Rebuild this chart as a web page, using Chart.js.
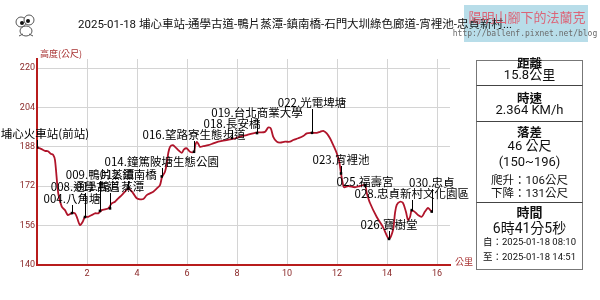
<!DOCTYPE html>
<html>
<head>
<meta charset="utf-8">
<script src="https://cdn.jsdelivr.net/npm/chart.js@4"></script>
<style>
html,body{margin:0;padding:0;background:#fff;}
canvas{display:block;}
</style>
</head>
<body>
<canvas id="c" width="600" height="300"></canvas>
<script>
// ---- data ----
const distKm = [0,0.16,0.32,0.44,0.55,0.65,0.72,0.85,0.99,1.12,1.23,1.32,1.40,1.52,1.61,1.72,1.83,1.92,2.05,2.19,2.32,2.45,2.59,2.72,2.85,2.99,3.12,3.25,3.39,3.52,3.65,3.76,3.85,3.99,4.12,4.25,4.39,4.52,4.65,4.79,4.92,5.00,5.12,5.19,5.25,5.32,5.43,5.52,5.65,5.79,5.88,5.99,6.12,6.28,6.33,6.39,6.45,6.52,6.65,6.85,7.05,7.25,7.45,7.72,7.92,8.12,8.39,8.65,8.85,9.12,9.25,9.35,9.45,9.59,9.72,9.92,10.12,10.25,10.45,10.65,10.79,10.99,11.19,11.32,11.45,11.59,11.72,11.85,11.99,12.09,12.16,12.23,12.28,12.45,12.72,12.92,13.12,13.19,13.32,13.59,13.84,14.08,14.24,14.32,14.39,14.52,14.64,14.76,14.84,14.92,14.99,15.12,15.24,15.39,15.52,15.64,15.72,15.79];
const elevM = [187.8,187.2,186.4,186.2,185.2,184.7,182.6,169.1,163.7,162.3,160.3,160.7,161.1,161.0,159.0,156.2,157.6,159.5,159.6,160.3,161.0,161.0,162.3,162.6,163.0,165.0,165.7,167.1,168.4,169.8,171.1,170.2,169.1,167.1,166.7,166.8,168.4,169.1,169.8,171.1,172.5,175.7,177.9,181.3,185.4,188.0,188.7,188.0,186.7,185.6,187.0,187.4,186.0,186.0,188.7,190.0,189.3,188.0,188.3,188.7,189.4,190.1,190.5,191.0,191.4,192.2,192.8,193.5,193.9,194.1,195.9,195.5,192.1,190.1,189.7,190.1,190.1,190.8,191.5,192.4,193.5,193.7,193.7,194.1,194.5,193.5,191.5,188.7,185.4,182.0,177.2,173.2,171.6,172.1,171.6,172.1,172.5,169.3,165.2,159.5,155.4,150.6,154.2,161.1,164.4,165.7,165.2,161.5,158.3,159.5,162.3,161.5,160.3,159.6,161.7,163.2,162.4,161.7];

const wpNames = ["埔心火車站(前站)","004.八角塘","008.通學古道","009.鴨片蒸潭","011.鴨片蒸潭","012.鎮南橋","014.鐘篤陂塘生態公園","016.望路寮生態步道","018.長安橋","019.台北商業大學","022.光電埤塘","023.宵裡池","025.福壽宮","026.寶樹堂","028.忠貞新村文化園區","030.忠貞"];
const wpKm   = [0,1.40,1.92,2.52,2.92,3.65,4.99,6.28,7.80,8.80,11.0,12.16,13.12,14.08,14.99,15.79];
const wpElev = [187.8,161.1,159.5,162.0,163.0,171.1,176.0,186.0,191.6,193.6,193.7,177.2,172.5,150.6,162.3,161.7];

const xTicks = [2,4,6,8,10,12,14,16];
const yTicks = [140,156,172,188,204,220];

const titleText = "2025-01-18 埔心車站-通學古道-鴨片蒸潭-鎮南橋-石門大圳綠色廊道-宵裡池-忠貞新村...";
const panelDistance = "15.8公里";
const panelSpeed = "2.364 KM/h";
const panelDrop = "46 公尺";
const panelRange = "(150~196)";
const panelClimb = "爬升：106公尺";
const panelDescent = "下降：131公尺";
const panelDuration = "6時41分5秒";
const panelFrom = "自：2025-01-18 08:10";
const panelTo = "至：2025-01-18 14:51";

// ---- layout (label rows, pixels) ----
const labelRowY = [134,199,187,175,187,175,162,135,124,113,103,160,182,225,194,183];

const FONT = '"Roboto","Noto Sans CJK TC",sans-serif';
const CJK = '"Noto Sans CJK TC","Roboto",sans-serif';

const profile = distKm.map((d,i)=>({x:d,y:elevM[i]}));
const wps = wpKm.map((d,i)=>({x:d,y:wpElev[i]}));

const overlay = {
  id:'overlay',
  afterDatasetsDraw(chart){
    const ctx = chart.ctx;
    const xs = chart.scales.x, ys = chart.scales.y;
    ctx.save();
    ctx.font = '11.5px ' + CJK;
    ctx.textAlign = 'center';
    ctx.textBaseline = 'middle';
    wpNames.forEach((n,i)=>{
      const px = xs.getPixelForValue(wpKm[i]);
      const py = ys.getPixelForValue(wpElev[i]);
      const ly = labelRowY[i];
      ctx.strokeStyle = '#000';
      ctx.lineWidth = 1;
      ctx.beginPath();
      const x0 = Math.round(px)+0.5;
      ctx.moveTo(x0, ly+6);
      ctx.lineTo(x0, py);
      ctx.stroke();
      ctx.fillStyle = '#000';
      ctx.fillText(n, i===0 ? 45 : px, ly);
    });
    ctx.restore();
  },
  afterDraw(chart){
    const ctx = chart.ctx;
    ctx.save();
    ctx.fillStyle = '#a83232';
    ctx.font = '9px ' + CJK;
    ctx.textAlign = 'left';
    ctx.textBaseline = 'middle';
    ctx.fillText('高度(公尺)', 40, 54);
    ctx.fillText('公里', 455, 262);

    // watermark box (under title text)
    ctx.fillStyle = 'rgba(160,210,226,0.75)';
    ctx.fillRect(464,5,124,37);

    // title
    ctx.fillStyle = '#111';
    ctx.font = '11.5px ' + FONT;
    ctx.textAlign = 'left';
    ctx.fillText(titleText, 78, 25);

    // frog doodle
    ctx.strokeStyle = '#555';
    ctx.lineWidth = 1;
    ctx.fillStyle = '#fff';
    ctx.beginPath(); ctx.ellipse(21,22,5,5,0,0,Math.PI*2); ctx.fill(); ctx.stroke();
    ctx.beginPath(); ctx.ellipse(29,20,5,5,0,0,Math.PI*2); ctx.fill(); ctx.stroke();
    ctx.fillStyle = '#111';
    ctx.beginPath(); ctx.arc(22,23,2,0,Math.PI*2); ctx.fill();
    ctx.beginPath(); ctx.arc(28,21,2,0,Math.PI*2); ctx.fill();
    ctx.beginPath(); ctx.ellipse(26,31,6,5,0,0,Math.PI*2); ctx.stroke();
    ctx.beginPath(); ctx.moveTo(19,36); ctx.lineTo(23,34); ctx.moveTo(33,36); ctx.lineTo(29,34); ctx.stroke();

    // watermark text
    ctx.fillStyle = 'rgba(226,80,100,0.85)';
    ctx.font = '13px ' + CJK;
    ctx.textAlign = 'center';
    ctx.fillText('陽明山腳下的法蘭克', 527, 17);
    ctx.fillStyle = '#6a6a6a';
    ctx.font = '8px "DejaVu Sans Mono",monospace';
    ctx.fillText('http://ballenf.pixnet.net/blog', 525, 34);

    // stats panel
    const L=476.5, R=582.5, T=60.5, B=269.5, cx=(L+R)/2;
    ctx.fillStyle='#fff';
    ctx.fillRect(L,T,R-L,B-T);
    ctx.strokeStyle='#777';
    ctx.lineWidth=1;
    ctx.strokeRect(L,T,R-L,B-T);
    ctx.strokeStyle='#444';
    [85.5,121.5,202.5].forEach(y=>{ctx.beginPath();ctx.moveTo(L,y);ctx.lineTo(R,y);ctx.stroke();});
    ctx.fillStyle='#111';
    ctx.textAlign='center';
    ctx.textBaseline='middle';
    const t=(s,y,f)=>{ctx.font=f;ctx.fillText(s,cx,y);};
    t('距離',63,'bold 12.5px '+CJK);
    t(panelDistance,76,'13px '+FONT);
    t('時速',98,'bold 12.5px '+CJK);
    t(panelSpeed,111,'13px '+FONT);
    t('落差',132,'bold 12.5px '+CJK);
    t(panelDrop,147,'13px '+FONT);
    t(panelRange,163,'13px '+FONT);
    t(panelClimb,181,'11.5px '+FONT);
    t(panelDescent,194,'11.5px '+FONT);
    t('時間',212,'bold 13px '+CJK);
    t(panelDuration,229,'14px '+FONT);
    t(panelFrom,243,'9.5px '+FONT);
    t(panelTo,258,'9.5px '+FONT);
    ctx.restore();
  }
};

new Chart(document.getElementById('c'), {
  type:'scatter',
  data:{
    datasets:[
      {data:profile, showLine:true, borderColor:'#b0142a', borderWidth:1.8, pointRadius:0, tension:0.3, order:2},
      {data:wps, showLine:false, pointStyle:'rect', pointRadius:1.8, backgroundColor:'#000', borderColor:'#000', borderWidth:0, order:1}
    ]
  },
  options:{
    responsive:false,
    animation:false,
    devicePixelRatio:1,
    layout:{padding:{left:0,top:59,right:150,bottom:0}},
    plugins:{legend:{display:false},tooltip:{enabled:false}},
    scales:{
      x:{
        type:'linear', min:0, max:16.52,
        afterBuildTicks:s=>{s.ticks = xTicks.map(v=>({value:v}));},
        afterFit:s=>{s.height=35;},
        grid:{color:'#d4d4d4', lineWidth:1, drawTicks:false},
        border:{color:'#b81c1c', width:2},
        ticks:{color:'#8b2a2a', font:{size:9, family:'Roboto'}, padding:3, maxRotation:0}
      },
      y:{
        type:'linear', min:140, max:223.7,
        afterBuildTicks:s=>{s.ticks = yTicks.map(v=>({value:v}));},
        afterFit:s=>{s.width=37;},
        grid:{color:'#d4d4d4', lineWidth:1, drawTicks:false},
        border:{color:'#b81c1c', width:2},
        ticks:{color:'#8b2a2a', font:{size:9, family:'Roboto'}, padding:2}
      }
    }
  },
  plugins:[overlay]
});
</script>
</body>
</html>
